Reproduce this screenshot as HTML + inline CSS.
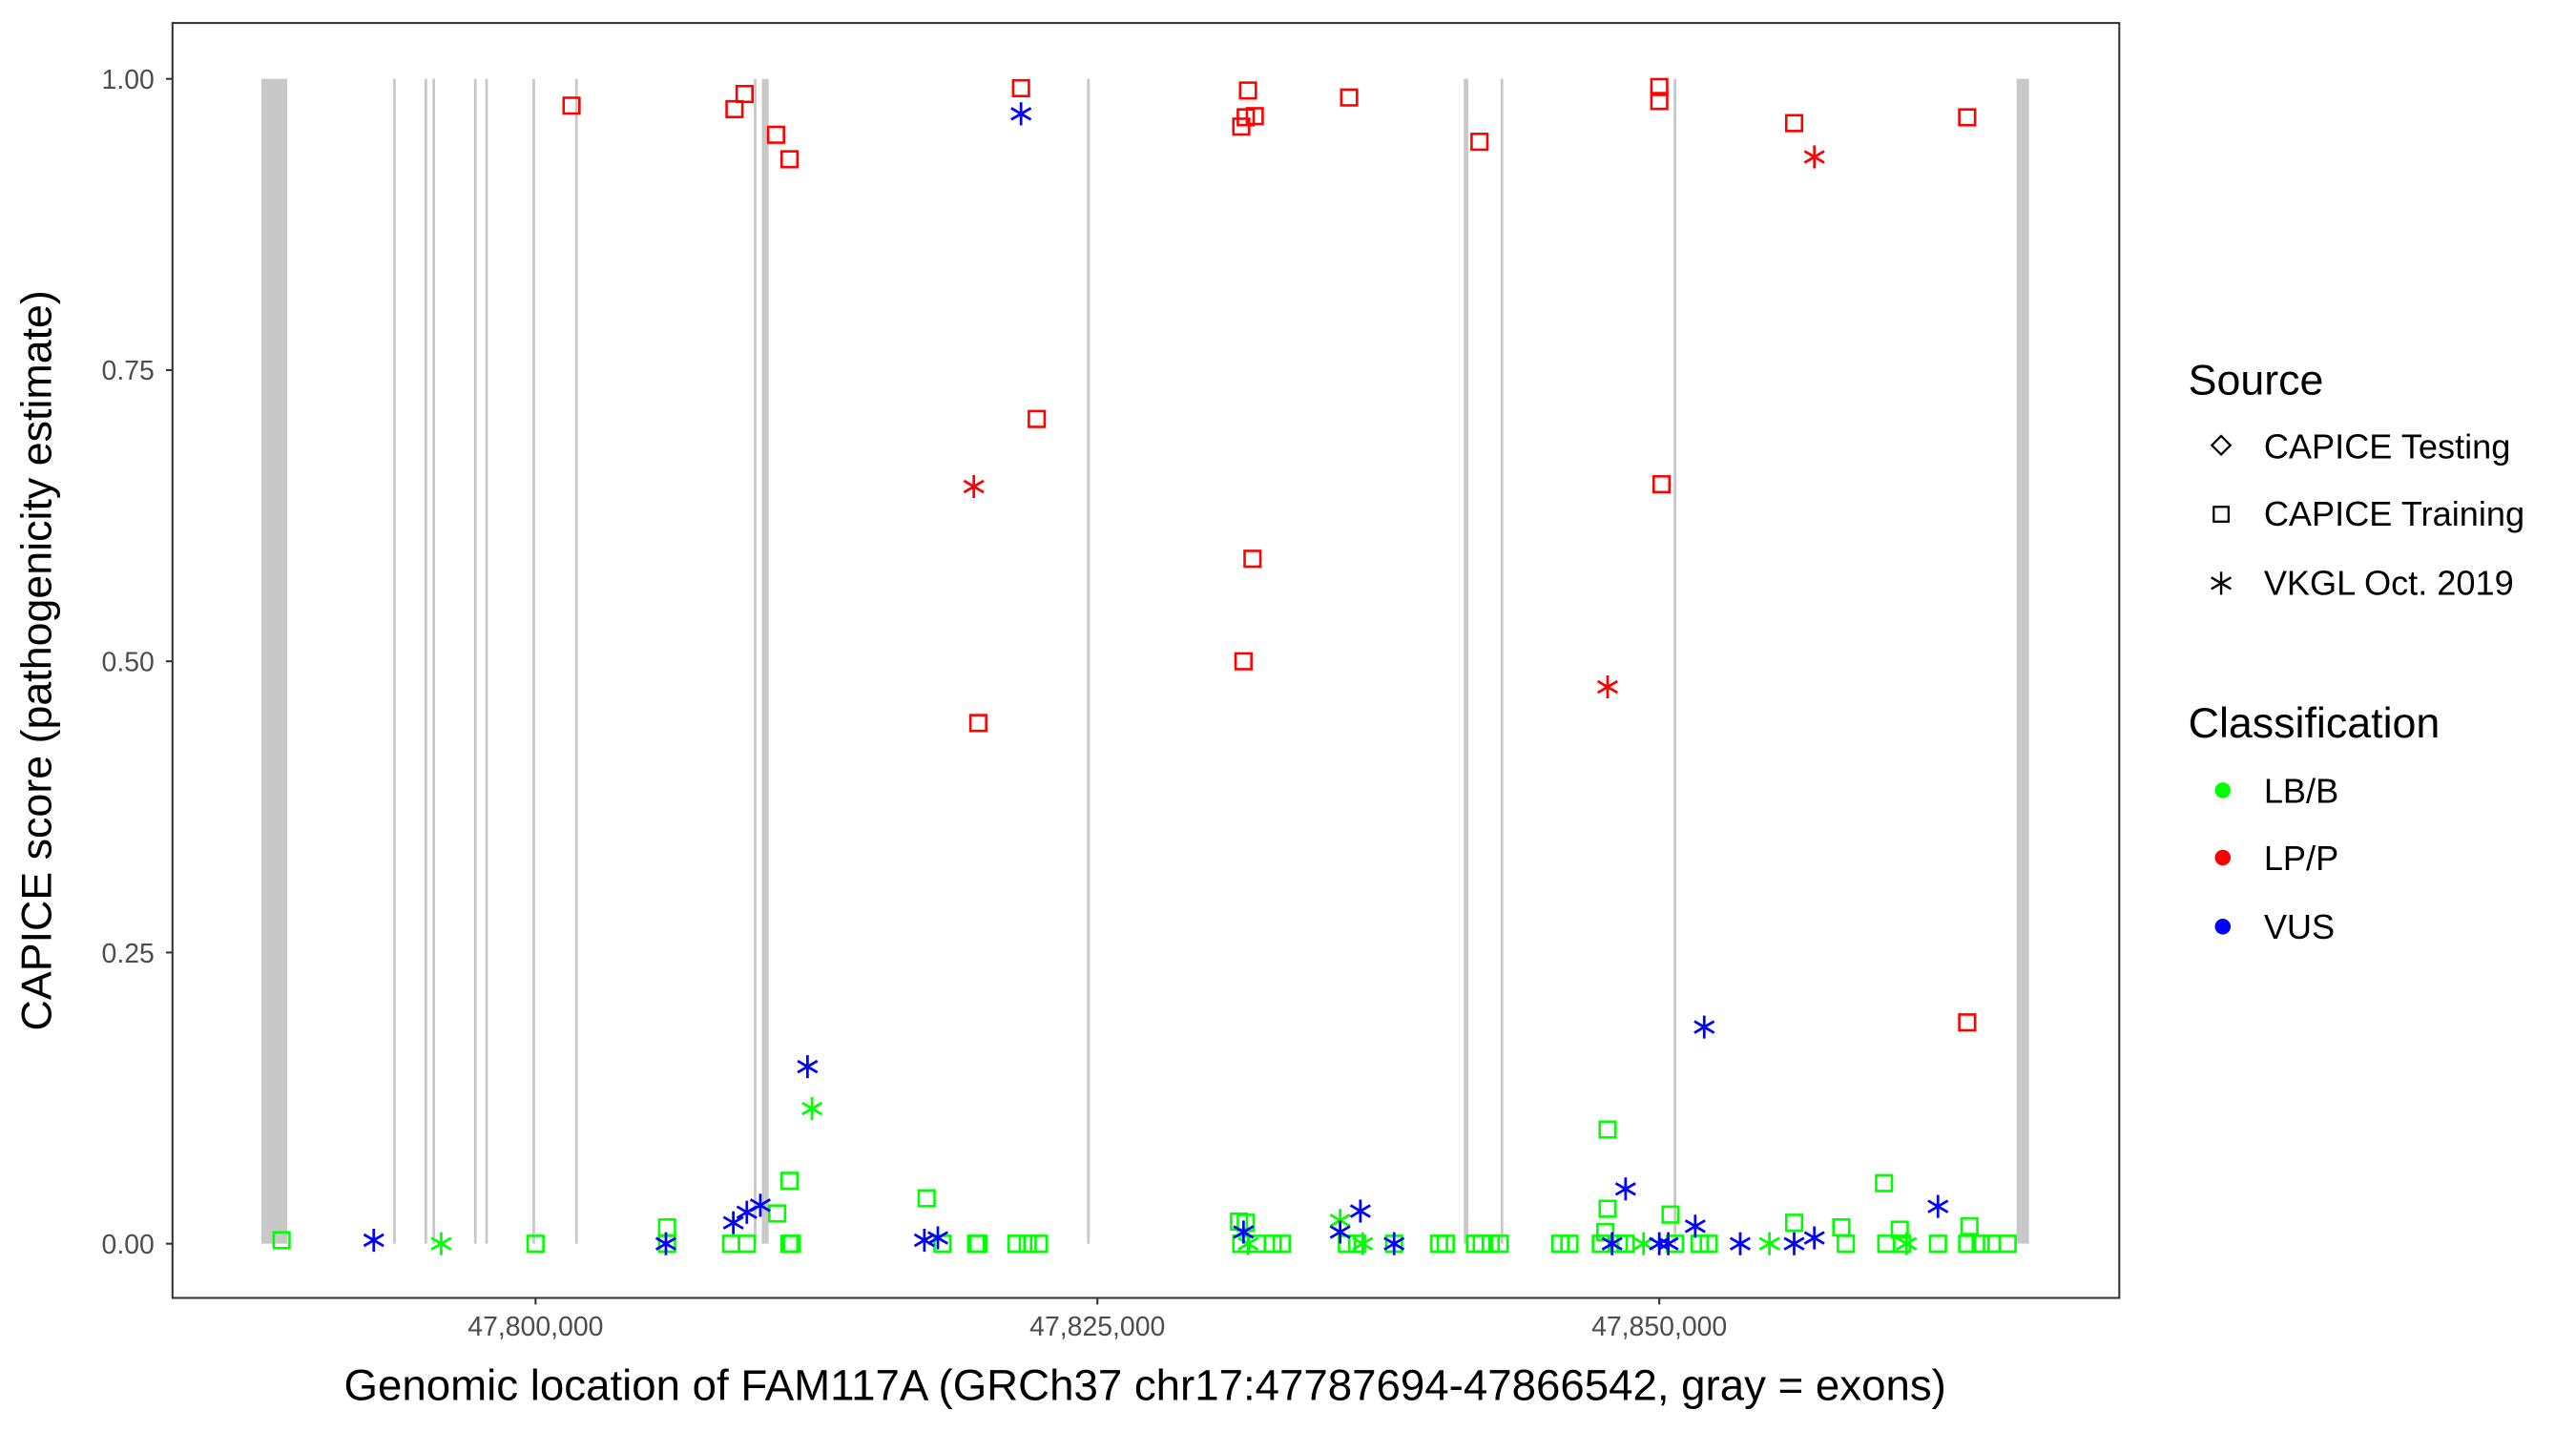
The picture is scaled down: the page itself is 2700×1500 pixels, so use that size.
<!DOCTYPE html>
<html><head><meta charset="utf-8"><style>
html,body{margin:0;padding:0;background:#fff}
svg{display:block}
text{font-family:"Liberation Sans",Arial,sans-serif}
</style></head><body>
<svg id="chart" width="2700" height="1500" viewBox="0 0 1568 871" preserveAspectRatio="none" xmlns="http://www.w3.org/2000/svg">
<rect x="0" y="0" width="1568" height="871" fill="#fff"/>
<g id="exons"></g>
<g id="points"></g>
<rect x="105" y="14" width="1185" height="776" fill="none" stroke="#333" stroke-width="1.2"/>
<g id="yaxis"></g>
<g id="xaxis"></g>
<text transform="translate(31,402) rotate(-90)" text-anchor="middle" font-size="26" fill="#000">CAPICE score (pathogenicity estimate)</text>
<text x="697" y="852" text-anchor="middle" font-size="26.5" fill="#000">Genomic location of FAM117A (GRCh37 chr17:47787694-47866542, gray = exons)</text>
<g>
<text x="1332" y="240" font-size="26">Source</text>
<rect x="1348" y="267" width="8" height="8" transform="rotate(45 1352 271)" fill="none" stroke="#000" stroke-width="1.3"/>
<text x="1378" y="279" font-size="21">CAPICE Testing</text>
<rect x="1347.5" y="308.5" width="9" height="9" fill="none" stroke="#000" stroke-width="1.3"/>
<text x="1378" y="320" font-size="21">CAPICE Training</text>
<g stroke="#000" stroke-width="1.4">
<line x1="1352" y1="348" x2="1352" y2="362"/><line x1="1346" y1="351.5" x2="1358" y2="358.5"/><line x1="1346" y1="358.5" x2="1358" y2="351.5"/></g>
<text x="1378" y="362" font-size="21">VKGL Oct. 2019</text>
</g>
<g>
<text x="1332" y="449" font-size="26">Classification</text>
<circle cx="1353" cy="481" r="4.8" fill="#00ff00"/>
<text x="1378" y="488.5" font-size="21">LB/B</text>
<circle cx="1353" cy="522" r="4.8" fill="#ff0000"/>
<text x="1378" y="529.5" font-size="21">LP/P</text>
<circle cx="1353" cy="564" r="4.8" fill="#0000ff"/>
<text x="1378" y="571.5" font-size="21">VUS</text>
</g>
</svg>
<script>
// positions in kb (chr17), scores 0..1
const exonStarts=[47787.8,47793.72,47795.12,47795.47,47797.32,47797.82,47799.92,47801.82,47809.77,47810.07,47824.6,47841.3,47843.0,47850.7,47865.9];
const exonEnds  =[47788.95,47793.72,47795.12,47795.47,47797.32,47797.82,47799.92,47801.82,47809.77,47810.37,47824.6,47841.5,47843.0,47850.7,47866.45];
const redSqX=[47801.6,47808.85,47809.3,47810.7,47811.3,47821.6,47822.3,47819.7,47831.4,47831.7,47832.0,47831.6,47831.9,47831.5,47836.2,47842.0,47850.0,47850.0,47850.1,47856.0,47863.7,47863.7];
const redSqY=[0.977,0.974,0.987,0.952,0.931,0.992,0.708,0.447,0.959,0.99,0.968,0.967,0.588,0.5,0.984,0.946,0.993,0.981,0.652,0.962,0.967,0.19];
const redAstX=[47819.5,47847.7,47856.9];
const redAstY=[0.65,0.478,0.933];
const blueAstX=[47792.8,47805.8,47808.8,47809.4,47810.0,47812.1,47821.6,47817.3,47817.9,47831.5,47835.8,47836.7,47838.2,47847.9,47848.5,47850.0,47850.4,47851.6,47852.0,47853.6,47856.0,47856.9,47862.4];
const blueAstY=[0.003,0.0,0.018,0.027,0.033,0.152,0.97,0.003,0.005,0.01,0.01,0.028,0.0,0.0,0.047,0.0,0.0,0.015,0.186,0.0,0.0,0.005,0.032];
const greenAstX=[47795.8,47812.3,47835.8,47854.9,47861.0,47831.7,47836.8,47849.3];
const greenAstY=[0,0.116,0.02,0,0,0,0,0];
const greenSqX=[47788.7,47800,47805.85,47805.85,47808.7,47809.4,47810.75,47811.3,47811.3,47811.4,47817.4,47818.1,47819.6,47819.7,47821.4,47821.9,47822.4,47831.3,47831.6,47831.4,47832.1,47832.8,47833.2,47836.1,47836.55,47838.2,47840.2,47840.5,47841.8,47842.1,47842.5,47842.9,47845.6,47846.0,47847.4,47847.7,47847.7,47847.6,47848.2,47848.5,47850.5,47850.7,47851.8,47852.2,47856.0,47858.1,47858.3,47860.0,47860.1,47860.7,47860.8,47862.4,47863.7,47863.8,47864.3,47864.8,47865.5];
const greenSqY=[0.003,0,0.014,0,0,0,0.026,0.054,0,0,0.039,0,0,0,0,0,0,0.019,0.018,0,0,0,0,0,0,0,0,0,0,0,0,0,0,0,0,0.098,0.03,0.01,0,0,0.025,0,0,0,0.018,0.014,0,0.052,0,0.012,0,0,0,0.015,0,0,0];
const xTicks=[47800,47825,47850];
const xTickLabels=["47,800,000","47,825,000","47,850,000"];
const yTicks=[0,0.25,0.5,0.75,1];
const yTickLabels=["0.00","0.25","0.50","0.75","1.00"];

const NS="http://www.w3.org/2000/svg";
function sx(v){return 326+(v-47800)*(342/25);}
function sy(v){return 757-v*709;}
function mk(tag,attrs,parent){const e=document.createElementNS(NS,tag);for(const k in attrs)e.setAttribute(k,attrs[k]);parent.appendChild(e);return e;}
const exG=document.getElementById('exons'),ptG=document.getElementById('points'),yG=document.getElementById('yaxis'),xG=document.getElementById('xaxis');
for(let i=0;i<exonStarts.length;i++){
  const x0=sx(exonStarts[i]),x1=sx(exonEnds[i]);const w=Math.max(1.6,x1-x0);
  const r=mk('rect',{x:x0-(x1-x0<1.6?0.8:0),y:sy(1),width:w,height:sy(0)-sy(1),fill:'#c8c8c8'},exG);
  
  
}
function square(x,y,c,name){
  const r=mk('rect',{x:sx(x)-4.8,y:sy(y)-4.8,width:9.6,height:9.6,fill:'none',stroke:c,'stroke-width':1.5},ptG);
  
  
}
function star(x,y,c,name){
  const cx=sx(x),cy=sy(y);const g=mk('g',{stroke:c,'stroke-width':1.6},ptG);
  
  
  mk('line',{x1:cx,y1:cy-7,x2:cx,y2:cy+7},g);
  mk('line',{x1:cx-6,y1:cy-3.5,x2:cx+6,y2:cy+3.5},g);
  mk('line',{x1:cx-6,y1:cy+3.5,x2:cx+6,y2:cy-3.5},g);
}
greenSqX.forEach((x,i)=>square(x,greenSqY[i],'#00ff00','point-lbb-training'));
greenAstX.forEach((x,i)=>star(x,greenAstY[i],'#00ff00','point-lbb-vkgl'));
redSqX.forEach((x,i)=>square(x,redSqY[i],'#ff0000','point-lpp-training'));
redAstX.forEach((x,i)=>star(x,redAstY[i],'#ff0000','point-lpp-vkgl'));
blueAstX.forEach((x,i)=>star(x,blueAstY[i],'#0000ff','point-vus-vkgl'));
yTicks.forEach((v,i)=>{
  const l=mk('line',{x1:101,x2:105,y1:sy(v),y2:sy(v),stroke:'#333','stroke-width':1.2},yG);
  
  
  const t=mk('text',{x:94,y:sy(v)+6,'text-anchor':'end','font-size':16.5,fill:'#4d4d4d'},yG);
  t.textContent=yTickLabels[i];
  
  
});
xTicks.forEach((v,i)=>{
  const l=mk('line',{x1:sx(v),x2:sx(v),y1:790,y2:794,stroke:'#333','stroke-width':1.2},xG);
  
  
  const t=mk('text',{x:sx(v),y:813,'text-anchor':'middle','font-size':16.5,fill:'#4d4d4d'},xG);
  t.textContent=xTickLabels[i];
  
  
});
</script>
</body></html>
